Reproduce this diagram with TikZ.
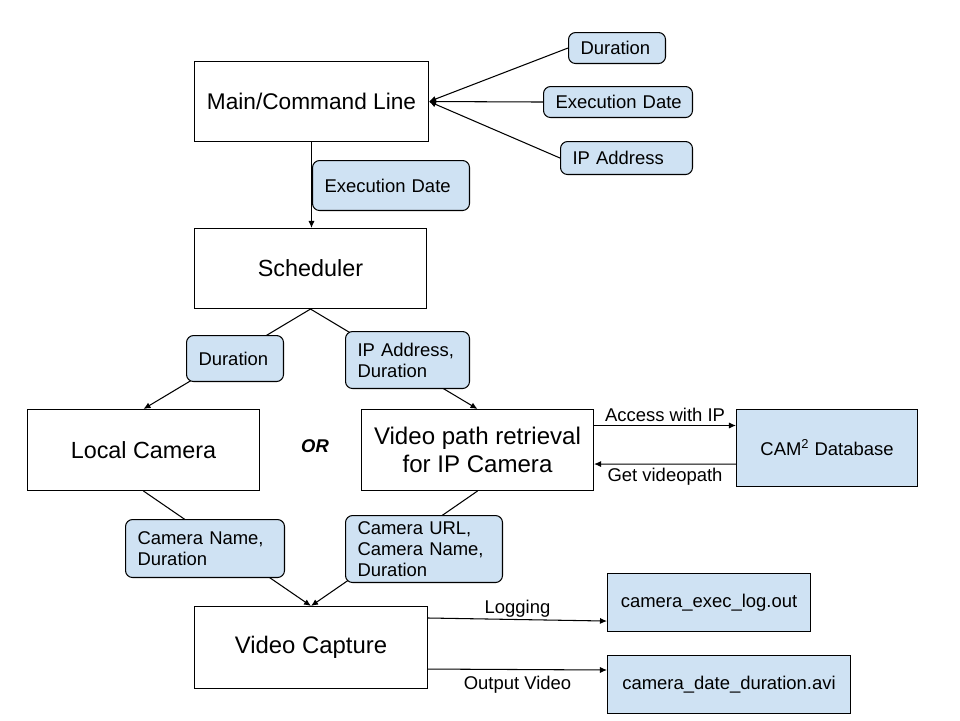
\documentclass[tikz,border=0pt]{standalone}
\usepackage{fontspec}
\setmainfont{Liberation Sans}
\usepackage{xcolor}
\usetikzlibrary{arrows.meta,backgrounds,calc}
\definecolor{pillblue}{HTML}{CFE2F3}
\tikzset{
    block/.style={draw, rectangle, anchor=north west, line width=0.6pt, align=center, font=\fontsize{13.3}{16}\selectfont},
    store/.style={draw, rectangle, anchor=north west, fill=pillblue, line width=0.6pt, font=\fontsize{10.5}{12.5}\selectfont},
    pill/.style 2 args={draw, rounded corners=4pt, anchor=north west, fill=pillblue, line width=0.6pt, align=left, inner xsep=0.24cm, inner ysep=0pt, text width=#1, minimum height=#2, font=\fontsize{10.5}{12}\selectfont},
    tag/.style={inner sep=2pt, font=\fontsize{10.5}{12.5}\selectfont},
    link/.style={line width=0.6pt},
    flowtip/.tip={Latex[length=4pt,width=3.5pt]}}
\begin{document}
\begin{tikzpicture}[x=0.02cm,y=-0.02cm]
\useasboundingbox (0,0) rectangle (960,720);

%Main boxes
\node[block, minimum width=4.68cm, minimum height=1.6cm, font=\fontsize{12.9}{16}\selectfont] (main) at (194,61) {Main/Command Line};
\node[block, minimum width=4.64cm, minimum height=1.6cm] (sched) at (194,228) {Scheduler};
\node[block, minimum width=4.64cm, minimum height=1.62cm] (local) at (27,409) {Local Camera};
\node[block, minimum width=4.64cm, minimum height=1.62cm, font=\fontsize{13.7}{15.9}\selectfont] (vp) at (361,409) {Video path retrieval\\for IP Camera};
\node[block, minimum width=4.66cm, minimum height=1.64cm, font=\fontsize{13.6}{16}\selectfont] (cap) at (194,606) {Video Capture};
\node[font=\fontsize{10.5}{12.5}\selectfont\bfseries\itshape] (or) at (315,446) {OR};

%Stores
\node[store, minimum width=3.62cm, minimum height=1.54cm] (cam) at (736,409) {CAM\textsuperscript{2} Database};
\node[store, minimum width=4.06cm, minimum height=1.16cm] (log) at (607,573) {camera\_exec\_log.out};
\node[store, minimum width=4.86cm, minimum height=1.16cm] (avi) at (607,655) {camera\_date\_duration.avi};

%Inputs
\node[pill={1.46cm}{0.62cm}] (durTop) at (568,32) {Duration};
\node[pill={2.50cm}{0.62cm}] (edTop) at (543,86) {Execution~Date};
\node[pill={2.16cm}{0.66cm}] (ipTop) at (560,141) {IP~Address};
\node[pill={2.66cm}{1.0cm}] (edMid) at (312,160) {Execution~Date};
\node[pill={1.46cm}{0.92cm}] (durLeft) at (186,335) {Duration};
\node[pill={2.00cm}{1.14cm}] (ipDur) at (345,331) {IP~Address,\\Duration};
\node[pill={2.70cm}{1.16cm}] (camDur) at (125,519) {Camera~Name,\\Duration};
\node[pill={2.66cm}{1.34cm}] (urlDur) at (345,515) {Camera~URL,\\Camera~Name,\\Duration};

%Connectors
\begin{scope}[on background layer]
\draw[link, -flowtip] (durTop.west) -- (main.east);
\draw[link, -flowtip] (edTop.west) -- (main.east);
\draw[link, -flowtip] (ipTop.west) -- (main.east);
\draw[link, -flowtip] (main.south) -- (main.south |- sched.north);
\draw[link, -flowtip] (sched.south) -- (local.north);
\draw[link, -flowtip] (sched.south) -- (vp.north);
\draw[link, -flowtip] (local.south) -- (cap.north);
\draw[link, -flowtip] (vp.south) -- (cap.north);
\draw[link, -flowtip] ([yshift=-0.33cm]vp.north east) -- ([yshift=-0.33cm]cam.north west) node[tag, midway, above] {Access with IP};
\draw[link, -flowtip] ([yshift=0.46cm]cam.south west) -- ([yshift=0.54cm]vp.south east) node[tag, midway, below] {Get videopath};
\draw[link, -flowtip] ([yshift=-0.24cm]cap.north east) -- ([yshift=0.22cm]log.south west) node[tag, midway, above=-1pt] {Logging};
\draw[link, -flowtip] ([yshift=0.4cm]cap.south east) -- ([yshift=-0.3cm]avi.north west) node[tag, midway, below=1.5pt] {Output Video};
\end{scope}

\end{tikzpicture}
\end{document}
